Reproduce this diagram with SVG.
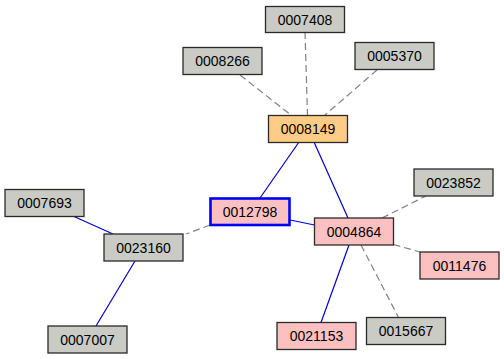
<svg xmlns="http://www.w3.org/2000/svg" width="504" height="359" viewBox="0 0 504 359">
<style>
.n rect{stroke:#2a2a2a;stroke-width:1.3}
.g rect{fill:#c9cbc4}
.p rect{fill:#fdc0c0}
.o rect{fill:#fecc86}
.sel rect{stroke:#0000ff;stroke-width:2.6}
text{font-family:"Liberation Sans",Arial,sans-serif;font-size:14px;text-anchor:middle;fill:#000}
.e line{fill:none;stroke-width:1.2}
.d{stroke:#808080;stroke-dasharray:7,4}
.s{stroke:#0000cc}
</style>
<rect width="504" height="359" fill="#fff"/>
<g id="edges" class="e">
<line class="d" x1="240" y1="75" x2="291" y2="115"/>
<line class="d" x1="305" y1="32" x2="307.5" y2="115"/>
<line class="d" x1="377" y1="70" x2="325" y2="115"/>
<line class="s" x1="299" y1="142" x2="260" y2="198"/>
<line class="s" x1="314" y1="142" x2="348" y2="218"/>
<line class="s" x1="290" y1="220" x2="314.5" y2="225"/>
<line class="d" x1="210" y1="225" x2="186" y2="234"/>
<line class="s" x1="74" y1="216.5" x2="113" y2="234"/>
<line class="s" x1="135" y1="261" x2="96" y2="326"/>
<line class="d" x1="382" y1="218" x2="426" y2="196"/>
<line class="d" x1="393.5" y1="244.5" x2="420" y2="252"/>
<line class="d" x1="361" y1="245" x2="398.5" y2="317.5"/>
<line class="s" x1="349" y1="245" x2="321" y2="322.5"/>
</g>
<g id="n0007408" class="n g"><rect x="265.5" y="6.5" width="79" height="26"/><text x="305" y="24.5">0007408</text></g>
<g id="n0008266" class="n g"><rect x="183" y="47.5" width="79" height="27"/><text x="222.5" y="66">0008266</text></g>
<g id="n0005370" class="n g"><rect x="355" y="42.5" width="79" height="27"/><text x="394.5" y="61">0005370</text></g>
<g id="n0008149" class="n o"><rect x="268.5" y="115.5" width="79" height="27"/><text x="308" y="134">0008149</text></g>
<g id="n0012798" class="n p sel"><rect x="210.5" y="198.5" width="79" height="26.5"/><text x="250" y="217">0012798</text></g>
<g id="n0023160" class="n g"><rect x="104" y="234" width="79" height="27"/><text x="143.5" y="252.5">0023160</text></g>
<g id="n0007693" class="n g"><rect x="5" y="189.5" width="79" height="27"/><text x="44.5" y="208">0007693</text></g>
<g id="n0007007" class="n g"><rect x="48" y="326" width="79" height="27"/><text x="87.5" y="344.5">0007007</text></g>
<g id="n0004864" class="n p"><rect x="314.5" y="218" width="79" height="27"/><text x="354" y="236.5">0004864</text></g>
<g id="n0023852" class="n g"><rect x="414" y="169" width="79" height="27"/><text x="453.5" y="187.5">0023852</text></g>
<g id="n0011476" class="n p"><rect x="420" y="252" width="79" height="27"/><text x="459.5" y="270.5">0011476</text></g>
<g id="n0015667" class="n g"><rect x="366.5" y="317.5" width="79" height="27"/><text x="406" y="336">0015667</text></g>
<g id="n0021153" class="n p"><rect x="277" y="322.5" width="79" height="27"/><text x="316.5" y="341">0021153</text></g>
</svg>
